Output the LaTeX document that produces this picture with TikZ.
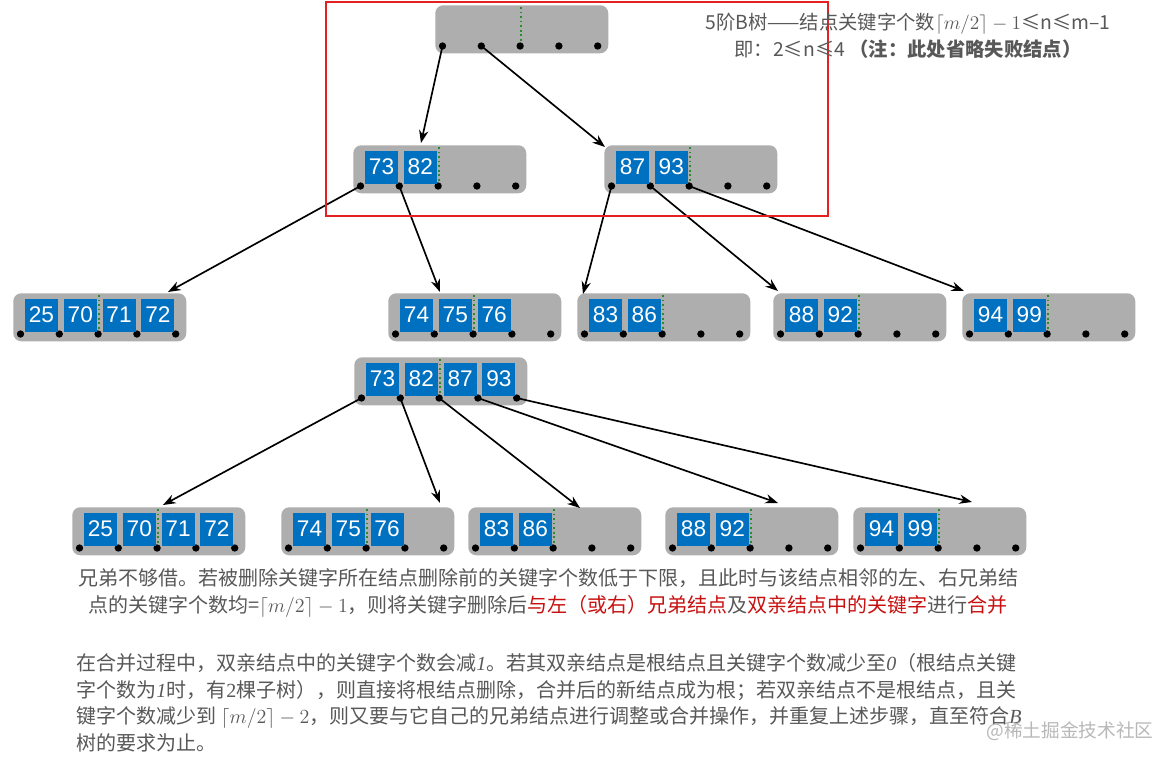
\RequirePackage{fix-cm}
\documentclass[tikz,border=0pt]{standalone}
\usepackage{fontspec}
\setmainfont{Noto Sans CJK SC}
\newfontfamily\keyfont{Liberation Sans}
\newfontfamily\tms{Liberation Serif}
\usetikzlibrary{calc,arrows.meta}
\definecolor{nodegray}{RGB}{174,174,174}
\definecolor{keyblue}{RGB}{0,112,192}
\definecolor{dotgreen}{RGB}{40,140,40}
\definecolor{txtgray}{RGB}{88,88,88}
\definecolor{hired}{RGB}{200,16,16}
\definecolor{boxred}{RGB}{228,32,32}
\tikzset{
  bbox/.style={fill=nodegray, rounded corners=6pt, minimum width=129.75pt, minimum height=36pt, inner sep=0pt, draw=none},
  bdot/.style={circle, fill=black, inner sep=0pt, minimum size=5.5pt},
  keybox/.style={fill=keyblue, text=white, inner sep=0pt, minimum size=24.75pt, font=\keyfont\fontsize{17}{17}\selectfont},
  mindash/.style={dotgreen, dotted, line width=1.4pt},
  arr/.style={-{Stealth[length=9.5pt,width=7pt]}, line width=1.25pt},
  toptext/.style={text=txtgray, inner sep=0pt, font=\fontsize{14.5}{20.5}\selectfont},
  bodytext/.style={text=txtgray, inner sep=0pt, font=\fontsize{15}{20}\selectfont},
}
\newcommand\btn[3]{%
  \node[bbox, anchor=north west] (#1) at (#2,#3) {};
  \draw[mindash] ($(#1.north west)+(85.6,2)$) -- ($(#1.north west)+(85.6,41)$);
  \foreach \i in {0,...,4}{\node[bdot] (#1-\i) at ($(#1.north west)+(7.5+38.8*\i,41)$) {};}
}
\newcommand\bkeys[2]{%
  \foreach \k [count=\j from 0] in {#2}{\node[keybox] (#1-k\j) at ($(#1.north west)+(28.5+38.8*\j,22)$) {\k};}
}
\newcommand\itnum[1]{{\tms\itshape #1}}
\begin{document}
\begin{tikzpicture}[x=0.75pt,y=-0.75pt]
\useasboundingbox[fill=white] (0,0) rectangle (1174,760);

% level 1-2
\btn{root}{435}{5}
\btn{l}{353}{145}\bkeys{l}{73,82}
\btn{r}{604}{145}\bkeys{r}{87,93}
% level 3
\btn{a}{13}{293}\bkeys{a}{25,70,71,72}
\btn{b}{388}{293}\bkeys{b}{74,75,76}
\btn{c}{577}{293}\bkeys{c}{83,86}
\btn{d}{773}{293}\bkeys{d}{88,92}
\btn{e}{962}{293}\bkeys{e}{94,99}
% merged
\btn{m}{354}{357}\bkeys{m}{73,82,87,93}
\btn{p}{72}{507}\bkeys{p}{25,70,71,72}
\btn{q}{281}{507}\bkeys{q}{74,75,76}
\btn{s}{468}{507}\bkeys{s}{83,86}
\btn{t}{665}{507}\bkeys{t}{88,92}
\btn{u}{853}{507}\bkeys{u}{94,99}

% arrow tips
\coordinate (tl) at ($(l.north west)+(68,-2)$);
\coordinate (tr) at ($(r.north west)+(1,2)$);
\coordinate (ta) at ($(a.north west)+(155,-1)$);
\coordinate (tb) at ($(b.north west)+(52,-1)$);
\coordinate (tc) at ($(c.north west)+(6,1)$);
\coordinate (td) at ($(d.north west)+(5,-2)$);
\coordinate (te) at ($(e.north west)+(2,-2)$);
\coordinate (tp) at ($(p.north west)+(91,-2)$);
\coordinate (tq) at ($(q.north west)+(159,-4)$);
\coordinate (ts) at ($(s.north west)+(112,1)$);
\coordinate (tt) at ($(t.north west)+(113,-4)$);
\coordinate (tu) at ($(u.north west)+(119,-5)$);

\draw[arr] (root-0.center) -- (tl);
\draw[arr] (root-1.center) -- (tr);
\draw[arr] (l-0.center) -- (ta);
\draw[arr] (l-1.center) -- (tb);
\draw[arr] (r-0.center) -- (tc);
\draw[arr] (r-1.center) -- (td);
\draw[arr] (r-2.center) -- (te);
\draw[arr] (m-0.center) -- (tp);
\draw[arr] (m-1.center) -- (tq);
\draw[arr] (m-2.center) -- (ts);
\draw[arr] (m-3.center) -- (tt);
\draw[arr] (m-4.center) -- (tu);

% red frame
\draw[boxred, line width=1.1pt] (326,2) rectangle (828,216);

% texts
\node[toptext, align=center] (title) at (908,36) {5阶B树——结点关键字个数$\lceil m/2\rceil - 1$≤n≤m–1\\即：2≤n≤4 \textbf{（注：此处省略失败结点）}};

\node[bodytext, align=center] (t1) at (548,593) {兄弟不够借。若被删除关键字所在结点删除前的关键字个数低于下限，且此时与该结点相邻的左、右兄弟结\\点的关键字个数均=$\lceil m/2\rceil-1$，则将关键字删除后\textcolor{hired}{与左（或右）兄弟结点}及\textcolor{hired}{双亲结点中的关键字}进行\textcolor{hired}{合并}};

\node[bodytext, align=left, anchor=north west] (t2) at (76,653) {在合并过程中，双亲结点中的关键字个数会减\itnum{1}。若其双亲结点是根结点且关键字个数减少至\itnum{0}（根结点关键\\字个数为\itnum{1}时，有{\tms 2}棵子树），则直接将根结点删除，合并后的新结点成为根；若双亲结点不是根结点，且关\\键字个数减少到 $\lceil m/2\rceil-2$，则又要与它自己的兄弟结点进行调整或合并操作，并重复上述步骤，直至符合\itnum{B}\\树的要求为止。};

\node[text=black!28, inner sep=0pt, font=\fontsize{14}{14}\selectfont] (wm) at (1070,731) {@稀土掘金技术社区};
\end{tikzpicture}
\end{document}
